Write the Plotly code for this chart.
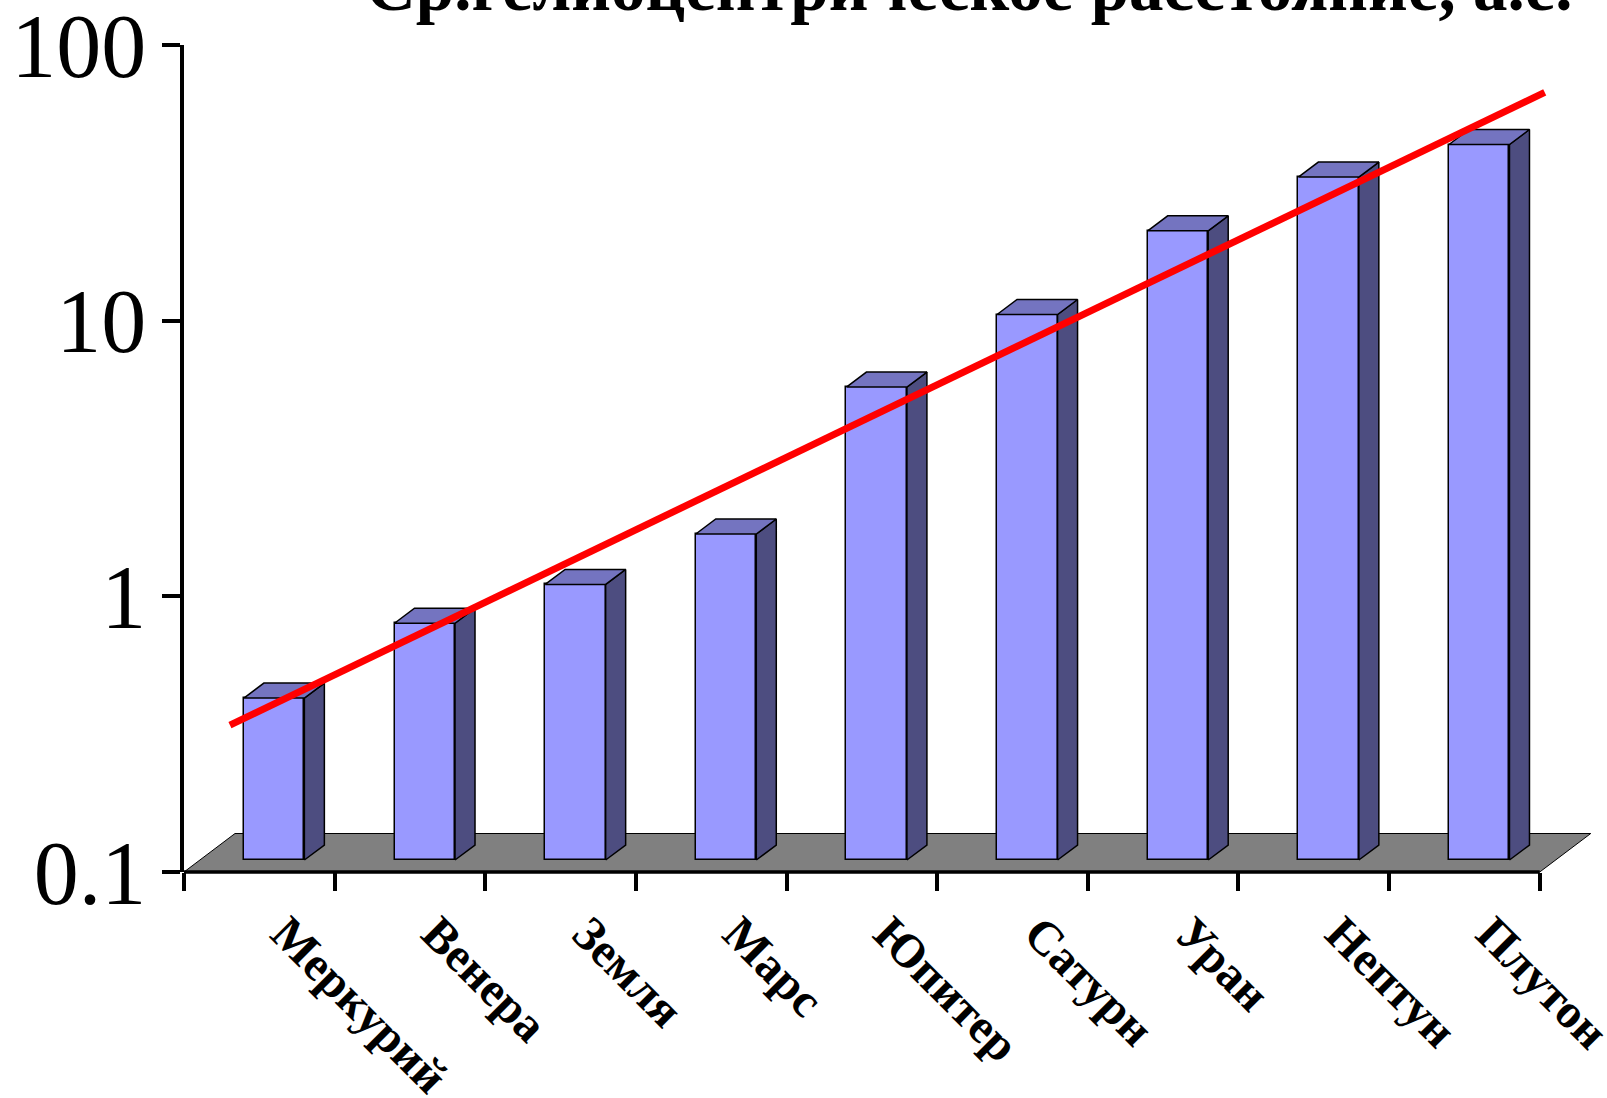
import plotly.graph_objects as go

# ---------------- data ----------------
planets = ["Меркурий", "Венера", "Земля", "Марс", "Юпитер", "Сатурн", "Уран", "Нептун", "Плутон"]
distance_au = [0.387, 0.723, 1.0, 1.524, 5.203, 9.537, 19.19, 30.07, 39.48]
trend_x = [-0.195, 8.533]
trend_au = [0.341, 67.5]
y_tick_vals = [0.1, 1, 10, 100]
y_tick_text = ["0.1", "1", "10", "100"]
title_text = "Ср.гелиоцентрическое расстояние, а.е."

# ---------------- layout geometry ----------------
W, H = 1607, 1098
ML, MR, MT, MB = 184, 7, 45, 226
X_RANGE = [-0.5, 8.9]
Y_RANGE = [-1, 2.001]  # log10
PLOT_W = W - ML - MR
PLOT_H = H - MT - MB
px_x = PLOT_W / (X_RANGE[1] - X_RANGE[0])
px_dec = PLOT_H / (Y_RANGE[1] - Y_RANGE[0])


def dx(p):
    return p / px_x


def ky(p):
    return 10 ** (p / px_dec)


FLOOR_DX, FLOOR_DY = 51, 38.5
FRONT_DX, FRONT_DY = 14.8, 12
DEPTH_DX, DEPTH_DY = 20, 15
BAR_W = 60.5

FONT = "Liberation Serif"
y_floor = 10 ** -1

fig = go.Figure()

x0, x1 = X_RANGE[0], X_RANGE[0] + len(planets)

# floor (below traces)
fy = FLOOR_DY / PLOT_H
fig.add_shape(type="path", xref="x", yref="paper", layer="below",
              path=f"M {x0},0 L {x1},0 L {x1 + dx(FLOOR_DX)},{fy} L {x0 + dx(FLOOR_DX)},{fy} Z",
              fillcolor="#808080", line=dict(color="#000000", width=1))

# bars: front faces
k = ky(FRONT_DY)
base = y_floor * k
xs = [i + dx(FRONT_DX) for i in range(len(planets))]
fig.add_trace(go.Bar(
    x=xs, y=[v * k - base for v in distance_au], base=base, width=dx(BAR_W),
    marker=dict(color="#9999FF", line=dict(color="#000000", width=1.5)),
    hoverinfo="skip", showlegend=False))

# side and top faces
sx, sy, tx, ty = [], [], [], []
kd = ky(DEPTH_DY)
for xc, v in zip(xs, distance_au):
    xl, xr = xc - dx(BAR_W) / 2, xc + dx(BAR_W) / 2
    top = v * k
    sx += [xr, xr + dx(DEPTH_DX), xr + dx(DEPTH_DX), xr, xr, None]
    sy += [base, base * kd, top * kd, top, base, None]
    tx += [xl, xl + dx(DEPTH_DX), xr + dx(DEPTH_DX), xr, xl, None]
    ty += [top, top * kd, top * kd, top, top, None]
fig.add_trace(go.Scatter(x=sx, y=sy, fill="toself", fillcolor="#4D4D80", mode="lines",
                         line=dict(color="#000000", width=1.5), hoverinfo="skip", showlegend=False))
fig.add_trace(go.Scatter(x=tx, y=ty, fill="toself", fillcolor="#7474C0", mode="lines",
                         line=dict(color="#000000", width=1.5), hoverinfo="skip", showlegend=False))

# trend line
fig.add_trace(go.Scatter(x=trend_x, y=trend_au, mode="lines",
                         line=dict(color="#FF0000", width=7), hoverinfo="skip", showlegend=False))

# x axis line
fig.add_shape(type="line", xref="x", yref="paper", x0=x0, x1=x1, y0=0, y1=0,
              line=dict(color="#000000", width=3.5))

fig.add_annotation(text="<b>" + title_text + "</b>", xref="paper", yref="paper",
                   x=(969 - ML) / PLOT_W, y=1, xanchor="center", yanchor="bottom",
                   yshift=18, showarrow=False, font=dict(family=FONT, size=69, color="#000000"))

fig.update_layout(
    template="none",
    width=W, height=H,
    margin=dict(l=ML, r=MR, t=MT, b=MB, pad=0, autoexpand=False),
    paper_bgcolor="#FFFFFF", plot_bgcolor="#FFFFFF",
    bargap=0, showlegend=False,
    xaxis=dict(range=X_RANGE, showgrid=False, zeroline=False, showline=False, automargin=False,
               tickmode="array", tickvals=list(range(len(planets))), ticktext=planets,
               tickangle=45, ticks="outside", ticklen=0, tickwidth=0,
               ticklabelstandoff=13, ticklabelshift=26, ticklabeloverflow="allow",
               tickfont=dict(family=FONT, size=48, color="#000000", weight="bold"),
               minor=dict(tickmode="array", tickvals=[x0 + i for i in range(len(planets) + 1)],
                          ticks="outside", ticklen=18, tickwidth=3.5, tickcolor="#000000",
                          showgrid=False)),
    yaxis=dict(type="log", range=Y_RANGE, showgrid=False, zeroline=False, automargin=False,
               showline=True, linecolor="#000000", linewidth=3.5,
               tickmode="array", tickvals=y_tick_vals, ticktext=y_tick_text,
               ticks="outside", ticklen=18, tickwidth=3.5, tickcolor="#000000",
               ticklabelstandoff=-2, ticklabeloverflow="allow",
               tickfont=dict(family=FONT, size=90, color="#000000")),
)

fig.write_html("out.html")
